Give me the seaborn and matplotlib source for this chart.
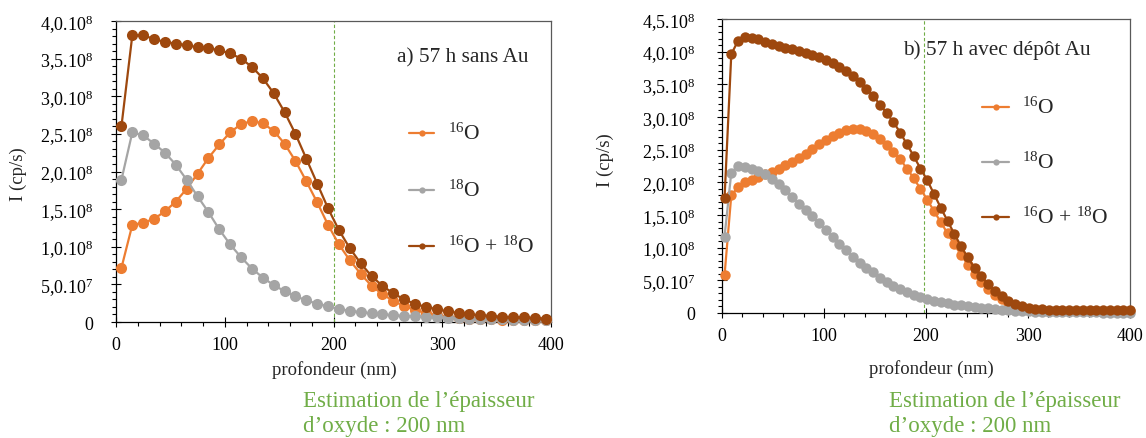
import numpy as np
import matplotlib
matplotlib.use("Agg")
import matplotlib.pyplot as plt
from matplotlib.lines import Line2D
from matplotlib.ticker import MultipleLocator, FixedLocator, FixedFormatter
import seaborn as sns

# ---------------- data (intensity in units of 1e8 cp/s) ----------------
depth_a = [5, 15, 25, 35, 45, 55, 65, 75, 85, 95, 105, 115, 125, 135, 145, 155, 165, 175, 185, 195,
           205, 215, 225, 235, 245, 255, 265, 275, 285, 295, 305, 315, 325, 335, 345, 355, 365, 375, 385, 395]
o16_a = [0.72, 1.29, 1.32, 1.37, 1.47, 1.60, 1.77, 1.97, 2.18, 2.36, 2.52, 2.63, 2.67, 2.64, 2.54, 2.37, 2.14, 1.87, 1.59, 1.29,
         1.03, 0.82, 0.64, 0.48, 0.37, 0.28, 0.21, 0.16, 0.12, 0.09, 0.07, 0.055, 0.045, 0.04, 0.035, 0.03, 0.03, 0.025, 0.02, 0.02]
o18_a = [1.89, 2.52, 2.48, 2.37, 2.25, 2.09, 1.89, 1.67, 1.46, 1.23, 1.03, 0.86, 0.71, 0.59, 0.49, 0.41, 0.34, 0.29, 0.24, 0.21,
         0.17, 0.15, 0.13, 0.115, 0.10, 0.09, 0.08, 0.075, 0.07, 0.06, 0.055, 0.05, 0.045, 0.04, 0.035, 0.035, 0.03, 0.03, 0.025, 0.025]
tot_a = [2.60, 3.81, 3.81, 3.76, 3.72, 3.70, 3.68, 3.65, 3.64, 3.61, 3.57, 3.50, 3.39, 3.24, 3.04, 2.79, 2.50, 2.17, 1.84, 1.51,
         1.22, 0.98, 0.78, 0.61, 0.48, 0.38, 0.30, 0.24, 0.20, 0.17, 0.14, 0.12, 0.10, 0.09, 0.08, 0.07, 0.065, 0.06, 0.055, 0.045]

depth_b = [2.5, 9.1, 15.8, 22.4, 29.0, 35.6, 42.3, 48.9, 55.5, 62.1, 68.8, 75.4, 82.0, 88.6, 95.3, 101.9, 108.5, 115.1, 121.8, 128.4,
           135.0, 141.6, 148.3, 154.9, 161.5, 168.1, 174.8, 181.4, 188.0, 194.6, 201.3, 207.9, 214.5, 221.1, 227.8, 234.4, 241.0, 247.6,
           254.3, 260.9, 267.5, 274.1, 280.8, 287.4, 294.0, 300.6, 307.3, 313.9, 320.5, 327.1, 333.8, 340.4, 347.0, 353.6, 360.3, 366.9,
           373.5, 380.1, 386.8, 393.4, 400.0]
o16_b = [0.58, 1.80, 1.93, 2.00, 2.04, 2.08, 2.12, 2.16, 2.21, 2.26, 2.31, 2.37, 2.44, 2.51, 2.58, 2.65, 2.71, 2.76, 2.80, 2.82,
         2.82, 2.79, 2.74, 2.66, 2.57, 2.47, 2.35, 2.21, 2.06, 1.90, 1.73, 1.56, 1.39, 1.22, 1.05, 0.89, 0.74, 0.60, 0.48, 0.37,
         0.28, 0.21, 0.15, 0.11, 0.075, 0.055, 0.045, 0.04, 0.037, 0.035, 0.034, 0.033, 0.032, 0.031, 0.03, 0.03, 0.03, 0.03, 0.03, 0.03, 0.03]
o18_b = [1.17, 2.15, 2.25, 2.24, 2.21, 2.18, 2.12, 2.05, 1.97, 1.88, 1.78, 1.67, 1.58, 1.48, 1.37, 1.27, 1.16, 1.06, 0.96, 0.86,
         0.77, 0.69, 0.62, 0.54, 0.47, 0.41, 0.36, 0.32, 0.28, 0.25, 0.22, 0.19, 0.17, 0.15, 0.13, 0.115, 0.10, 0.09, 0.08, 0.07,
         0.06, 0.05, 0.04, 0.035, 0.03, 0.025, 0.02, 0.018, 0.016, 0.014, 0.012, 0.01, 0.01, 0.009, 0.008, 0.008, 0.007, 0.007, 0.006, 0.006, 0.005]
tot_b = [1.76, 3.96, 4.17, 4.22, 4.21, 4.19, 4.15, 4.11, 4.08, 4.06, 4.04, 4.01, 3.98, 3.95, 3.92, 3.88, 3.83, 3.77, 3.70, 3.62,
         3.53, 3.43, 3.32, 3.19, 3.06, 2.92, 2.76, 2.58, 2.40, 2.21, 2.03, 1.82, 1.61, 1.41, 1.21, 1.02, 0.85, 0.69, 0.56, 0.44,
         0.34, 0.26, 0.19, 0.14, 0.10, 0.08, 0.065, 0.055, 0.05, 0.05, 0.048, 0.046, 0.045, 0.044, 0.043, 0.042, 0.042, 0.041, 0.04, 0.04, 0.04]

series_labels = ["$^{16}$O", "$^{18}$O", "$^{16}$O + $^{18}$O"]
yticks_a = [0, 0.5, 1.0, 1.5, 2.0, 2.5, 3.0, 3.5, 4.0]
yticklabels_a = ["0", "5,0.10$^{7}$", "1,0.10$^{8}$", "1,5.10$^{8}$", "2,0.10$^{8}$",
                 "2,5.10$^{8}$", "3,0.10$^{8}$", "3,5.10$^{8}$", "4,0.10$^{8}$"]
yticks_b = [0, 0.5, 1.0, 1.5, 2.0, 2.5, 3.0, 3.5, 4.0, 4.5]
yticklabels_b = yticklabels_a + ["4,5.10$^{8}$"]
xticks = [0, 100, 200, 300, 400]
titles = ["a) 57 h sans Au", "b) 57 h avec dépôt Au"]
oxide_a = 200
oxide_b = 198
note = "Estimation de l\u2019épaisseur\nd\u2019oxyde : 200 nm"

# ---------------- style ----------------
sns.set_style("white")
plt.rcParams["font.family"] = ["Liberation Serif", "DejaVu Serif"]
plt.rcParams["mathtext.fontset"] = "custom"
plt.rcParams["mathtext.rm"] = "Liberation Serif"
plt.rcParams["mathtext.it"] = "Liberation Serif:italic"
plt.rcParams["mathtext.bf"] = "Liberation Serif:bold"

C16, C18, CTOT = "#ED7D31", "#A5A5A5", "#9E480E"
GREEN = "#70AD47"
W, H = 1146, 439

fig = plt.figure(figsize=(W / 100, H / 100), dpi=100)


def fx(px):
    return px / W


def fy(py):
    return 1 - py / H


def panel(box, depth, s16, s18, stot, ymax, yt, ytl, vline, title, title_xy,
          leg_rows, leg_x, ylab_xy, xlab_xy, note_xy, ypad, ms):
    l, t, r, b = box
    ax = fig.add_axes([fx(l), fy(b), fx(r) - fx(l), (b - t) / H])
    for vals, c, z in ((s16, C16, 3), (s18, C18, 4), (stot, CTOT, 5)):
        sns.lineplot(x=depth, y=np.array(vals) * 1e8, ax=ax, color=c, marker="o",
                     markersize=ms, markeredgewidth=0, linewidth=1.6, legend=False,
                     zorder=z, clip_on=False, sort=False)
    ax.axvline(vline, color=GREEN, lw=0.8, ls=(0, (3, 2)), zorder=2)
    ax.set_xlim(0, 400)
    ax.set_ylim(0, ymax * 1e8)
    ax.xaxis.set_major_locator(FixedLocator(xticks))
    ax.xaxis.set_major_formatter(FixedFormatter([str(v) for v in xticks]))
    ax.xaxis.set_minor_locator(MultipleLocator(20))
    ax.yaxis.set_major_locator(FixedLocator([v * 1e8 for v in yt]))
    ax.yaxis.set_major_formatter(FixedFormatter(ytl))
    ax.yaxis.set_minor_locator(MultipleLocator(1e7))
    ax.tick_params(which="both", bottom=True, left=True, colors="black", width=0.8)
    ax.tick_params(which="major", direction="inout", length=6.5, labelsize=13)
    ax.tick_params(which="minor", direction="out", length=3)
    ax.tick_params(axis="y", which="major", pad=ypad)
    ax.tick_params(axis="x", which="major", pad=7)
    ax.set_xlabel("")
    ax.set_ylabel("")
    for s in ("left", "bottom"):
        ax.spines[s].set_color("black")
        ax.spines[s].set_linewidth(0.9)
    for s in ("top", "right"):
        ax.spines[s].set_color("#595959")
        ax.spines[s].set_linewidth(0.9)
    ax.grid(False)

    fig.text(fx(title_xy[0]), fy(title_xy[1]), title, fontsize=15.3, ha="left", va="center")
    for (row_y, lab, c) in zip(leg_rows, series_labels, (C16, C18, CTOT)):
        fig.add_artist(Line2D([fx(leg_x[0]), fx(leg_x[1])], [fy(row_y), fy(row_y)],
                              transform=fig.transFigure, color=c, lw=1.6))
        fig.add_artist(Line2D([fx((leg_x[0] + leg_x[1]) / 2)], [fy(row_y)],
                              transform=fig.transFigure, color=c, marker="o",
                              markersize=4.5, markeredgewidth=0, lw=0))
        fig.text(fx(leg_x[2]), fy(row_y), lab, fontsize=15.5, ha="left", va="center")
    fig.text(fx(ylab_xy[0]), fy(ylab_xy[1]), "I (cp/s)", fontsize=13.5, rotation=90,
             ha="center", va="center")
    fig.text(fx(xlab_xy[0]), fy(xlab_xy[1]), "profondeur (nm)", fontsize=13.5,
             ha="center", va="center")
    fig.text(fx(note_xy[0]), fy(note_xy[1]), note, fontsize=16.5, color=GREEN,
             ha="left", va="center", linespacing=1.3)
    return ax


panel((116, 22, 551, 323), depth_a, o16_a, o18_a, tot_a, 4.0, yticks_a, yticklabels_a,
      oxide_a, titles[0], (397, 58), (134, 191, 247), (409, 434, 448),
      (18, 174), (334, 370), (303, 414), 13, 8.0)
panel((722, 20, 1130, 314), depth_b, o16_b, o18_b, tot_b, 4.5, yticks_b, yticklabels_b,
      oxide_b, titles[1], (903, 50), (108, 163, 218), (982, 1009, 1022),
      (605, 160), (931, 369), (889, 414), 16, 7.5)

fig.savefig("out.png", dpi=100)
